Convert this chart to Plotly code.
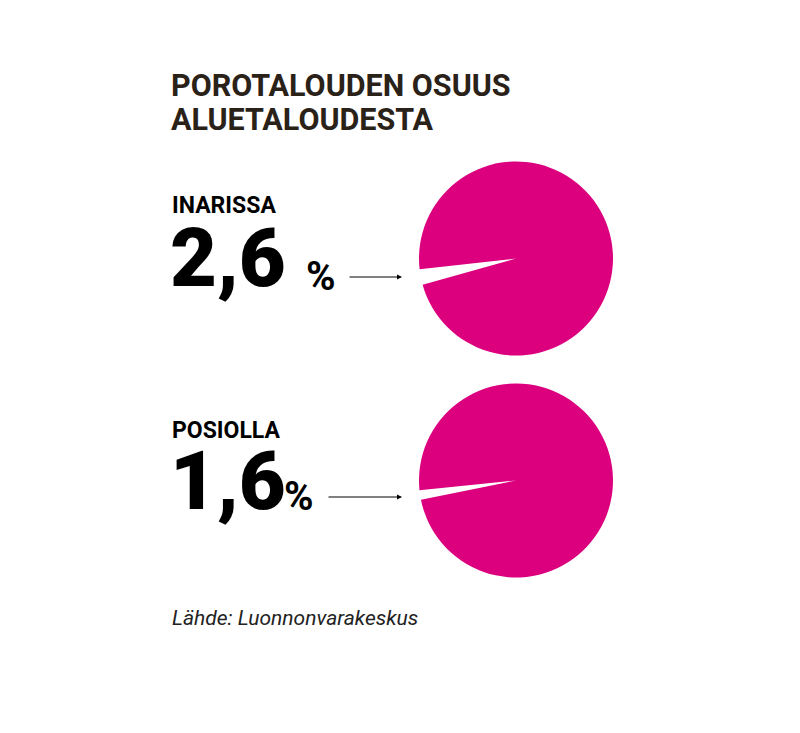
import plotly.graph_objects as go

# The page body adds an 8px margin, so the figure is drawn 8px in.
OFF = 8
W, H = 800 - 2 * OFF, 733 - 2 * OFF

# Data
regions = ["INARISSA", "POSIOLLA"]
shares = [2.6, 1.6]          # porotalouden osuus, %
share_labels = ["2,6", "1,6"]
slice_names = ["Porotalous", "Muu aluetalous"]
pie_color = "#DC007F"

def px(x):
    return (x - OFF) / W

def py(y):
    return 1 - (y - OFF) / H

fig = go.Figure()

# pie geometry (page-pixel boxes)
pie_boxes = [(419, 613, 160, 357), (419, 613, 383, 578)]
slice_centers = [259.0, 261.4]  # clockwise from 12 o'clock

for share, box, cen in zip(shares, pie_boxes, slice_centers):
    x0, x1, y0, y1 = box
    start = cen - share * 3.6 / 2
    fig.add_trace(go.Pie(
        labels=slice_names,
        values=[share, 100 - share],
        sort=False,
        direction="clockwise",
        rotation=start,
        marker=dict(colors=["#FFFFFF", pie_color], line=dict(width=0)),
        textinfo="none",
        hoverinfo="label+percent",
        showlegend=False,
        domain=dict(x=[px(x0), px(x1)], y=[py(y1), py(y0)]),
    ))

ann = []
def text(t, x, y, size, color="#000000", weight=700, family="Roboto", style="normal"):
    ann.append(dict(text=t, x=px(x), y=py(y), xref="paper", yref="paper",
                    xanchor="left", yanchor="middle", showarrow=False,
                    font=dict(size=size, color=color, family=family, weight=weight, style=style)))

title_color = "#2A2218"
text("POROTALOUDEN OSUUS", 169, 85, 30.5, title_color, 700)
text("ALUETALOUDESTA", 169, 120, 30.5, title_color, 700)

label_y = [205, 430]
num_y = [258, 481]
num_x = [168, 168]
pct_x = [304, 282]
pct_y = [277, 497]
arrow_x0 = [348, 327]
arrow_y = [277, 497]
for i in range(2):
    text(regions[i], 170, label_y[i], 23, "#000000", 700)
    text(share_labels[i], num_x[i], num_y[i], 81, "#000000", 900)
    text("%", pct_x[i], pct_y[i], 40, "#000000", 700)
    ann.append(dict(text="", x=px(402), y=py(arrow_y[i]), xref="paper", yref="paper",
                    ax=arrow_x0[i] - 402, ay=0, showarrow=True, arrowhead=2,
                    arrowsize=1, arrowwidth=1, arrowcolor="#000000"))

text("Lähde: Luonnonvarakeskus", 170, 618, 21, "#222222", 400, style="italic")

fig.update_layout(
    width=W, height=H,
    margin=dict(l=0, r=0, t=0, b=0),
    paper_bgcolor="white", plot_bgcolor="white",
    annotations=ann,
)

fig.write_html("out.html")
